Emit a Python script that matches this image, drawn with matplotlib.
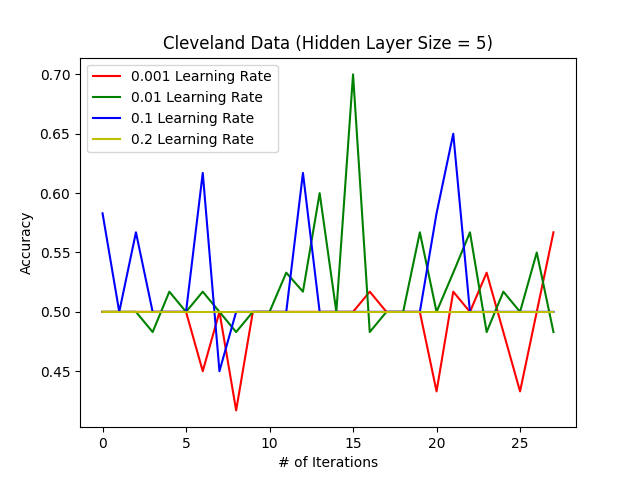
import matplotlib
matplotlib.use("Agg")
import matplotlib.pyplot as plt

iters = list(range(28))
lr_0001 = [0.5,0.5,0.5,0.5,0.5,0.5,0.45,0.5,0.417,0.5,0.5,0.5,0.5,0.5,0.5,0.5,0.517,0.5,0.5,0.5,0.433,0.517,0.5,0.533,0.483,0.433,0.5,0.567]
lr_001 = [0.5,0.5,0.5,0.483,0.517,0.5,0.517,0.5,0.483,0.5,0.5,0.533,0.517,0.6,0.5,0.7,0.483,0.5,0.5,0.567,0.5,0.533,0.567,0.483,0.517,0.5,0.55,0.483]
lr_01 = [0.583,0.5,0.567,0.5,0.5,0.5,0.617,0.45,0.5,0.5,0.5,0.5,0.617,0.5,0.5,0.5,0.5,0.5,0.5,0.5,0.583,0.65,0.5,0.5,0.5,0.5,0.5,0.5]
lr_02 = [0.5]*28

fig, ax = plt.subplots(figsize=(6.4,4.8), dpi=100)
ax.plot(iters, lr_0001, 'r', label='0.001 Learning Rate')
ax.plot(iters, lr_001, 'g', label='0.01 Learning Rate')
ax.plot(iters, lr_01, 'b', label='0.1 Learning Rate')
ax.plot(iters, lr_02, 'y', label='0.2 Learning Rate')
ax.set_title('Cleveland Data (Hidden Layer Size = 5)')
ax.set_xlabel('# of Iterations')
ax.set_ylabel('Accuracy')
ax.legend(loc='upper left')
fig.savefig('out.png')
